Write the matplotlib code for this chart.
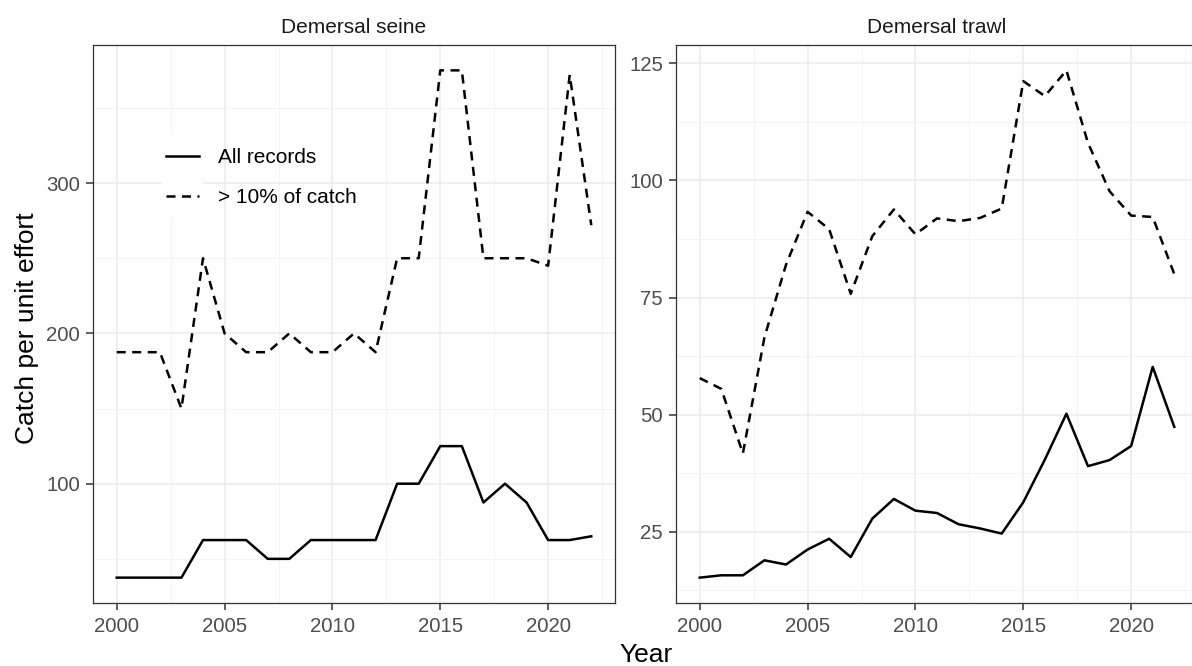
import matplotlib.pyplot as plt
from matplotlib.patches import Rectangle
from matplotlib.ticker import MultipleLocator

plt.rcParams['font.family'] = ['Liberation Sans', 'DejaVu Sans']

# Años de la serie
anios = list(range(2000, 2023))

# Red de cerco demersal
cerco_todos = [37.5, 37.5, 37.5, 37.5, 62.5, 62.5, 62.5, 50, 50, 62.5, 62.5, 62.5,
               62.5, 100, 100, 125, 125, 87.5, 100, 87.5, 62.5, 62.5, 65]
cerco_10 = [187.5, 187.5, 187.5, 150, 250, 200, 187.5, 187.5, 200, 187.5, 187.5, 200,
            187.5, 250, 250, 375, 375, 250, 250, 250, 245, 372, 272]

# Arrastre demersal
arrastre_todos = [15.2, 15.7, 15.7, 18.9, 18.0, 21.2, 23.5, 19.6, 27.8, 32.0, 29.5, 29.0,
                  26.6, 25.7, 24.6, 31.3, 40.4, 50.2, 39.0, 40.3, 43.3, 60.2, 47.4]
arrastre_10 = [57.8, 55.5, 41.7, 66.5, 82.0, 93.3, 89.6, 75.8, 88.1, 93.8, 88.5, 91.9,
               91.3, 92.0, 94.0, 121.2, 118.0, 123.5, 108.0, 97.7, 92.5, 92.2, 80.0]

paneles = ["Demersal seine", "Demersal trawl"]
etiquetas = ["All records", "> 10% of catch"]

fig = plt.figure(figsize=(11.92, 6.66), dpi=100)

# Posición de cada panel (el segundo se sale un poco por la derecha)
ancho = 522 / 1192
alto = 558 / 666
abajo = 1 - 603 / 666
ax1 = fig.add_axes([93 / 1192, abajo, ancho, alto])
ax2 = fig.add_axes([676 / 1192, abajo, ancho, alto])

datos = [(cerco_todos, cerco_10), (arrastre_todos, arrastre_10)]
mayores_y = [100, 25]

for ax, titulo, (todos, diez), paso in zip([ax1, ax2], paneles, datos, mayores_y):
    ax.plot(anios, todos, color='black', lw=1.8, label=etiquetas[0])
    ax.plot(anios, diez, color='black', lw=1.8, ls=(0, (3.6, 2.6)), label=etiquetas[1])

    # Rejilla al estilo theme_bw
    ax.xaxis.set_major_locator(MultipleLocator(5))
    ax.xaxis.set_minor_locator(MultipleLocator(2.5))
    ax.yaxis.set_major_locator(MultipleLocator(paso))
    ax.yaxis.set_minor_locator(MultipleLocator(paso / 2))
    ax.grid(which='major', color='#EBEBEB', lw=1.1)
    ax.grid(which='minor', color='#F2F2F2', lw=0.6)
    ax.set_axisbelow(True)

    for lado in ax.spines.values():
        lado.set_color('#333333')
        lado.set_linewidth(0.9)

    ax.tick_params(which='major', length=5, width=1.1, color='#333333',
                   labelcolor='#4D4D4D', labelsize=14.7)
    ax.tick_params(axis='x', which='major', pad=4.8)
    ax.tick_params(axis='y', which='major', pad=4.3)
    ax.tick_params(which='minor', length=0)
    ax.set_title(titulo, fontsize=15, color='#1A1A1A', pad=8.5)

# Fondo blanco de las claves de la leyenda
ax1.add_patch(Rectangle((0.132, 0.690), 0.079, 0.149, transform=ax1.transAxes,
                        facecolor='white', edgecolor='none', zorder=1))
ax1.legend(loc='upper left', bbox_to_anchor=(0.140, 0.8147), frameon=False,
           fontsize=15, handlelength=1.6, handletextpad=0.87, labelspacing=1.0,
           borderpad=0, borderaxespad=0)

fig.text(27 / 1192, 1 - 328 / 666, "Catch per unit effort", rotation=90,
         ha='center', va='center', fontsize=19)
fig.text(646 / 1192, 1 - 655 / 666, "Year", ha='center', va='center', fontsize=19)

plt.savefig("out.png", dpi=100)
